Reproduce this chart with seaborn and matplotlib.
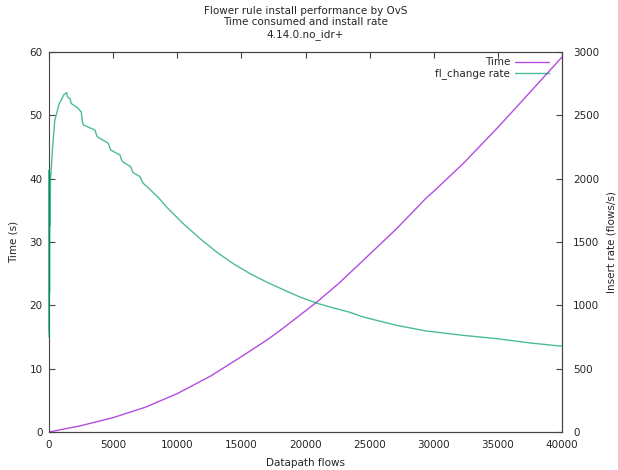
import numpy as np
import pandas as pd
import matplotlib
matplotlib.use("Agg")
import matplotlib.pyplot as plt
import seaborn as sns

# Time consumed (s) vs datapath flows
time_flows = [0, 2500, 5000, 7500, 10000, 12660, 15000, 16970, 18000, 20810,
              22500, 24240, 25800, 27100, 29440, 30000, 32300, 35000, 36450,
              40000]
time_secs = [0, 1.0, 2.27, 3.9, 6.06, 8.9, 11.9, 14.5, 16.0, 20.4,
             23.3, 26.6, 29.6, 32.1, 37.0, 38.0, 42.4, 48.1, 51.3,
             59.2]

# fl_change insert rate (flows/s)
rate_flows = [0, 10, 20, 30, 40, 50, 70, 120, 280, 450, 800, 1180, 1390,
              1420, 1500, 1640, 1740, 2210, 2520, 2600, 2680, 3587, 3700,
              3766, 4624, 4750, 4811, 5536, 5650, 5747, 6370, 6500, 6573,
              7096, 7250, 7353, 7875, 8655, 9170, 10470, 11770, 13070, 14360,
              15660, 16960, 18260, 19560, 20860, 21900, 23460, 24500, 27100,
              29440, 32300, 34900, 37500, 40000]
rate_vals = [750, 2066, 800, 2050, 1100, 2040, 1632, 1987, 2250, 2461, 2593,
             2666, 2679, 2650, 2640, 2632, 2593, 2561, 2526, 2450, 2424, 2384,
             2345, 2331, 2279, 2240, 2226, 2187, 2150, 2134, 2094, 2060, 2047,
             2016, 1980, 1963, 1915, 1837, 1776, 1645, 1527, 1421, 1329, 1251,
             1184, 1124, 1066, 1018, 987, 945, 908, 842, 797, 763, 737, 703,
             677]

df_time = pd.DataFrame({'flows': time_flows, 'time': time_secs})
df_rate = pd.DataFrame({'flows': rate_flows, 'rate': rate_vals})

sns.set_style("white")
plt.rcParams['font.family'] = ['DejaVu Sans']

fig = plt.figure(figsize=(6.18, 4.70), dpi=100)
ax = fig.add_axes([49 / 618, 38 / 470, 513 / 618, 380 / 470])
ax2 = ax.twinx()

purple = '#9400d3'
green = '#009e73'

sns.lineplot(data=df_time, x='flows', y='time', ax=ax, color=purple,
             lw=1, alpha=0.7, label='Time', legend=False)
sns.lineplot(data=df_rate, x='flows', y='rate', ax=ax2, color=green,
             lw=1, alpha=0.7, label='fl_change rate', legend=False,
             sort=False)
# keep the start-up spike at x=0 visible over the axis line
for ln in ax2.lines:
    ln.set_clip_on(False)
    ln.set_zorder(3)

ax.set_xlim(0, 40000)
ax.set_ylim(0, 60)
ax2.set_ylim(0, 3000)
ax.set_xticks(np.arange(0, 40001, 5000))
ax.set_yticks(np.arange(0, 61, 10))
ax2.set_yticks(np.arange(0, 3001, 500))

fs = 7.5
tc = '#444444'
ax.tick_params(axis='x', direction='in', top=True, length=4, labelsize=fs,
               color=tc, pad=5.5)
ax.tick_params(axis='y', direction='in', right=False, length=4, labelsize=fs,
               color=tc, pad=4.5)
ax2.tick_params(axis='y', direction='in', length=4, labelsize=fs,
                color=tc, pad=8)
for a in (ax, ax2):
    for s in a.spines.values():
        s.set_color(tc)
        s.set_linewidth(0.8)
ax2.spines['left'].set_visible(False)

ax.set_xlabel('Datapath flows', fontsize=fs, labelpad=6)
ax.set_ylabel('Time (s)', fontsize=fs, labelpad=8)
ax2.set_ylabel('Insert rate (flows/s)', fontsize=fs, labelpad=5)

ax.set_title('Flower rule install performance by OvS\n'
             'Time consumed and install rate\n4.14.0.no_idr+',
             fontsize=fs, pad=11, linespacing=1.2)

h1, l1 = ax.get_legend_handles_labels()
h2, l2 = ax2.get_legend_handles_labels()
ax2.legend(h1 + h2, l1 + l2, loc='upper right', frameon=False,
           bbox_to_anchor=(1 - 8 / 513, 1), markerfirst=False, fontsize=fs,
           handlelength=3.2, borderaxespad=0.3, borderpad=0.2,
           labelspacing=0.1, handletextpad=0.5)

fig.savefig('out.png', dpi=100)
